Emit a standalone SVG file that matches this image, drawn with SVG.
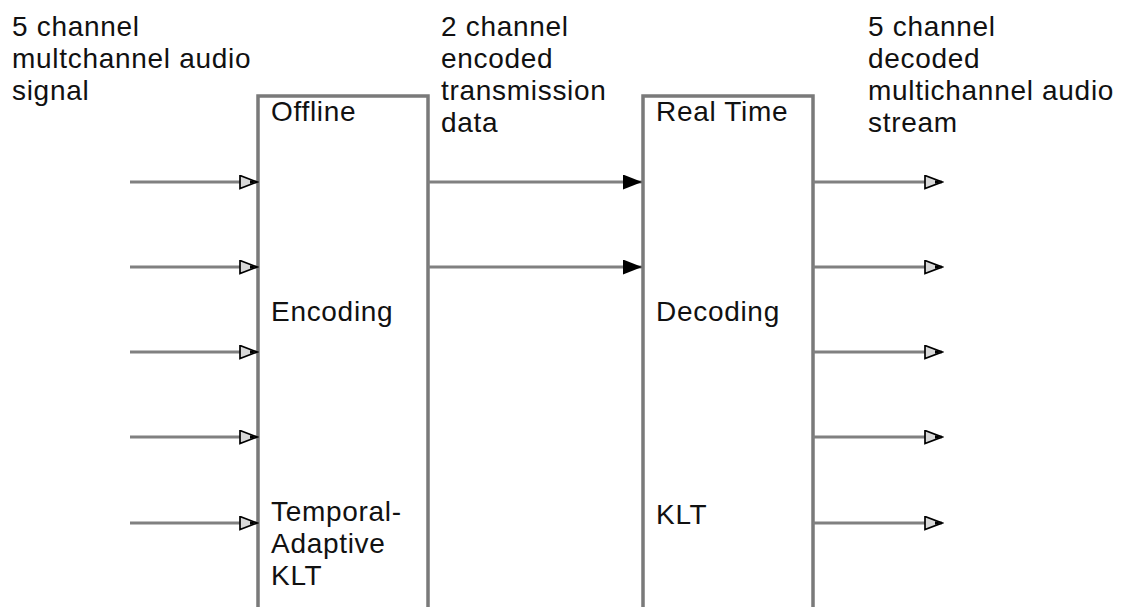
<svg xmlns="http://www.w3.org/2000/svg" width="1123" height="607" viewBox="0 0 1123 607">
<style>
text{font-family:"Liberation Sans",Arial,sans-serif;font-size:28px;letter-spacing:0.7px;fill:#111}
.box{fill:#fff;stroke:#7a7a7a;stroke-width:3.5}
.ln{stroke:#808080;stroke-width:3;fill:none}
</style>
<defs>
<marker id="open" markerUnits="userSpaceOnUse" markerWidth="20" markerHeight="16" refX="18" refY="7.5" orient="auto" viewBox="0 0 20 16">
<path d="M1,1 L18,7.5 L1,14 Z" fill="#d8d8d8" stroke="#000" stroke-width="1.7" stroke-linejoin="miter"/>
<path d="M11,5.7 L18,7.5 L11,9.3 Z" fill="#000"/>
</marker>
<marker id="solid" markerUnits="userSpaceOnUse" markerWidth="20" markerHeight="16" refX="19" refY="7.5" orient="auto" viewBox="0 0 20 16">
<path d="M0,0 L19,7.5 L0,15 Z" fill="#000"/>
</marker>
</defs>
<rect width="1123" height="607" fill="#fff"/>
<g id="label-input">
<text x="12" y="36">5 channel</text>
<text x="12" y="68">multchannel audio</text>
<text x="12" y="100">signal</text>
</g>
<g id="label-transmission">
<text x="441" y="36">2 channel</text>
<text x="441" y="68">encoded</text>
<text x="441" y="100">transmission</text>
<text x="441" y="132">data</text>
</g>
<g id="label-output">
<text x="868" y="36">5 channel</text>
<text x="868" y="68">decoded</text>
<text x="868" y="100">multichannel audio</text>
<text x="868" y="132">stream</text>
</g>
<g id="encoder">
<rect class="box" x="258" y="96" width="170" height="530"/>
<text x="271" y="121">Offline</text>
<text x="271" y="321">Encoding</text>
<text x="271" y="521">Temporal-</text>
<text x="271" y="553">Adaptive</text>
<text x="271" y="585">KLT</text>
</g>
<g id="decoder">
<rect class="box" x="643" y="96" width="170" height="530"/>
<text x="656" y="121">Real Time</text>
<text x="656" y="321">Decoding</text>
<text x="656" y="524">KLT</text>
</g>
<g id="connectors">
<line class="ln" x1="130" y1="182" x2="257" y2="182" marker-end="url(#open)"/>
<line class="ln" x1="130" y1="267" x2="257" y2="267" marker-end="url(#open)"/>
<line class="ln" x1="130" y1="352" x2="257" y2="352" marker-end="url(#open)"/>
<line class="ln" x1="130" y1="437" x2="257" y2="437" marker-end="url(#open)"/>
<line class="ln" x1="130" y1="523" x2="257" y2="523" marker-end="url(#open)"/>
<line class="ln" x1="428" y1="182" x2="642" y2="182" marker-end="url(#solid)"/>
<line class="ln" x1="428" y1="267" x2="642" y2="267" marker-end="url(#solid)"/>
<line class="ln" x1="813" y1="182" x2="942" y2="182" marker-end="url(#open)"/>
<line class="ln" x1="813" y1="267" x2="942" y2="267" marker-end="url(#open)"/>
<line class="ln" x1="813" y1="352" x2="942" y2="352" marker-end="url(#open)"/>
<line class="ln" x1="813" y1="437" x2="942" y2="437" marker-end="url(#open)"/>
<line class="ln" x1="813" y1="523" x2="942" y2="523" marker-end="url(#open)"/>
</g>
</svg>
